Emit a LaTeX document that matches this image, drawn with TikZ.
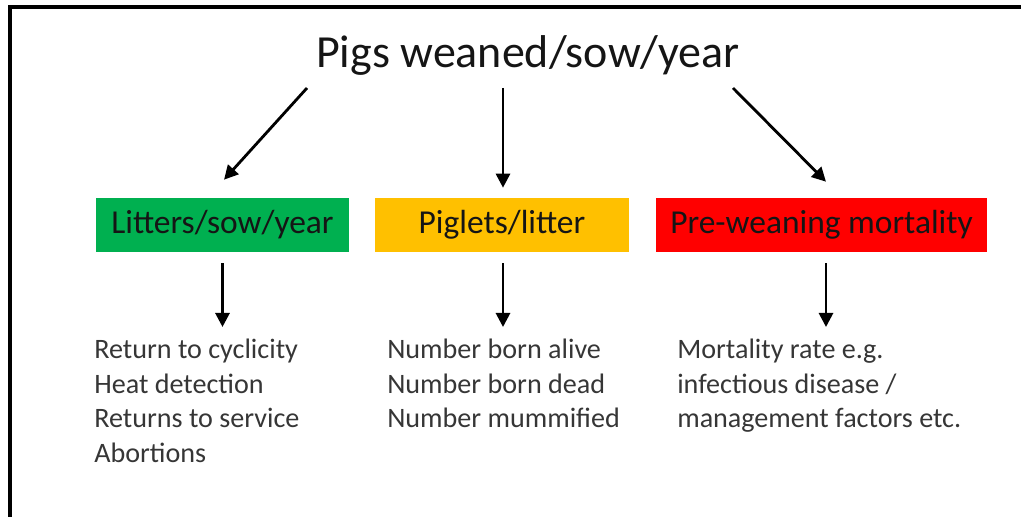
\documentclass[tikz,border=0pt]{standalone}
\usepackage{fontspec}
\setmainfont{Carlito}
\usetikzlibrary{positioning,arrows.meta,calc}
\definecolor{frame}{HTML}{000000}
\definecolor{litgreen}{HTML}{00B050}
\definecolor{pigyellow}{HTML}{FFC000}
\definecolor{mortred}{HTML}{FF0000}
\definecolor{ink}{HTML}{151515}
\definecolor{ink2}{HTML}{363636}
\tikzset{
  catbox/.style={minimum height=1.35cm, inner sep=0pt, text=ink,
    font=\fontsize{23.8pt}{27pt}\selectfont},
  listtxt/.style={anchor=north west, inner sep=0pt, align=left, text=ink2,
    font=\fontsize{20pt}{24.5pt}\selectfont},
  arr/.style={-{Triangle[length=10pt,width=10pt]}, line width=2pt, color=black},
}

\begin{document}
\begin{tikzpicture}[x=0.025cm, y=-0.025cm]
    \clip (0,0) rectangle (1021,517);
    \draw[frame, line width=2.2pt] (10,7) rectangle (1040,540);
    \node[font=\fontsize{32.7pt}{38pt}\selectfont, text=ink] (title) at (528,55) {Pigs weaned/sow/year};
    \node[catbox, fill=litgreen, minimum width=6.33cm] (litters) at (222.5,225) {Litters/sow/year};
    \node[catbox, fill=pigyellow, minimum width=6.35cm] (piglets) at (502,225) {Piglets/litter};
    \node[catbox, fill=mortred, minimum width=8.28cm] (mort) at (821.5,225) {Pre-weaning mortality};
    \node[listtxt] (fert) at (94,339) {Return to cyclicity\\Heat detection\\Returns to service\\Abortions};
    \node[listtxt] (born) at (387,339) {Number born alive\\Number born dead\\Number mummified};
    \node[listtxt] (loss) at (677,339) {Mortality rate e.g.\\infectious disease /\\management factors etc.};
    % arrows from the title
    \coordinate (s1) at (307,88);
    \coordinate (s2) at (503,88);
    \coordinate (s3) at (733,88);
    \draw[arr] (s1) -- ($(litters.north)+(1.5,-18)$);
    \draw[arr] (s2) -- ($(piglets.north)+(1,-10)$);
    \draw[arr] (s3) -- ($(mort.north)+(4.5,-16)$);
    % arrows down to the lists
    \foreach \b/\l/\dx in {litters/fert/0,piglets/born/1,mort/loss/4.5}
      \draw[arr, shorten <=0.28cm, shorten >=0.3cm] ([xshift=\dx*0.025cm]\b.south) -- ([xshift=\dx*0.025cm]\b.south |- \l.north);
\end{tikzpicture}
\end{document}
